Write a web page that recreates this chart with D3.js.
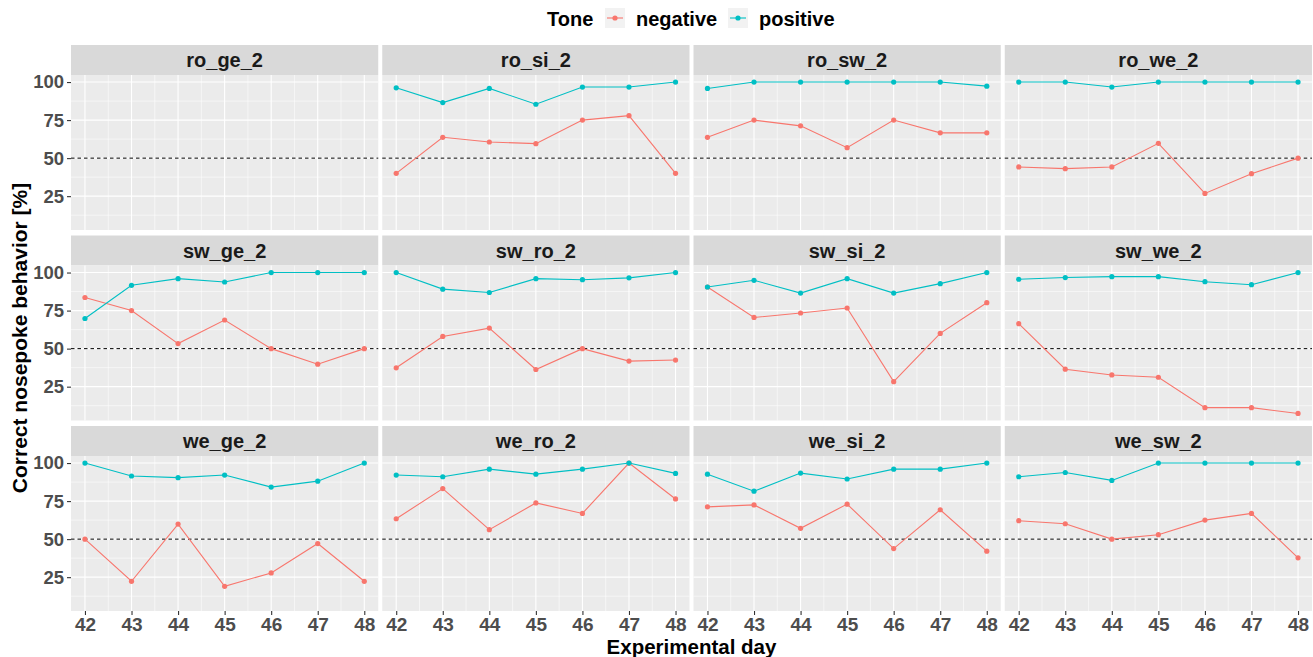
<!DOCTYPE html>
<html>
<head>
<meta charset="utf-8">
<script src="https://cdn.jsdelivr.net/npm/d3@7"></script>
<style>
  body { margin: 0; background: #fff; }
  text { font-family: "Liberation Sans", Arial, sans-serif; font-weight: bold; }
</style>
</head>
<body>
<div id="chart"></div>
<script>
var svgWidth = 1313;
var svgHeight = 657;

// Data
var days = [42, 43, 44, 45, 46, 47, 48];
var facets = ["ro_ge_2", "ro_si_2", "ro_sw_2", "ro_we_2",
              "sw_ge_2", "sw_ro_2", "sw_si_2", "sw_we_2",
              "we_ge_2", "we_ro_2", "we_si_2", "we_sw_2"];
var tones = ["negative", "positive"];
var yTicks = [25, 50, 75, 100];

var negative = [
  null,
  [40, 63.7, 60.6, 59.5, 75, 77.9, 40],
  [63.7, 75, 71.2, 56.9, 75, 66.6, 66.6],
  [44.2, 43.1, 44.2, 59.7, 26.8, 39.8, 50],
  [83.6, 75, 53.3, 68.8, 50, 39.8, 50],
  [37.4, 58, 63.5, 36.3, 50, 41.8, 42.5],
  [90.5, 70.5, 73.4, 76.7, 28.3, 60, 80.2],
  [66.4, 36.5, 32.7, 31.2, 11.2, 11.2, 7.4],
  [50, 22.3, 59.9, 19, 27.8, 47.1, 22.3],
  [63.4, 83.2, 56.2, 73.8, 66.9, 100, 76.4],
  [71.2, 72.5, 57.1, 73, 43.8, 69.3, 42.1],
  [62.1, 60.1, 50, 52.9, 62.5, 66.9, 37.7]
];
var positive = [
  null,
  [96.2, 86.5, 95.8, 85.4, 96.7, 96.7, 100],
  [95.8, 100, 100, 100, 100, 100, 97.3],
  [100, 100, 96.7, 100, 100, 100, 100],
  [69.8, 91.6, 96, 93.8, 100, 100, 100],
  [100, 89.1, 86.9, 96, 95.3, 96.5, 100],
  [90.5, 94.9, 86.5, 96, 86.5, 92.7, 100],
  [95.6, 96.7, 97.3, 97.3, 94, 92, 100],
  [100, 91.5, 90.4, 92.1, 84.2, 88.1, 100],
  [92.1, 91, 96, 92.7, 96, 100, 93.2],
  [92.7, 81.5, 93.4, 89.5, 96, 96, 100],
  [91, 93.8, 88.6, 100, 100, 100, 100]
];
var chance = 50;

var colors = { negative: "#F8766D", positive: "#00BFC4" };

// Layout of the facet grid
var plotLeft = 71, plotRight = 1312, plotTop = 45;
var nCols = 4, nRows = 3, colGap = 4;
var stripH = 30, panelH = 155, rowPitch = 190.5;
var panelW = (plotRight - plotLeft - colGap * (nCols - 1)) / nCols;

var svg = d3.select("#chart")
  .append("svg")
  .attr("width", svgWidth)
  .attr("height", svgHeight);

// Shared scales (ggplot-style 5% expansion)
var allVals = d3.merge(negative.concat(positive).filter(d => d));
var yMin = d3.min(allVals), yMax = d3.max(allVals);
var yPad = (yMax - yMin) * 0.05;
var yScale = d3.scaleLinear()
  .domain([yMin - yPad, yMax + yPad])
  .range([panelH, 0]);

var xPad = (d3.max(days) - d3.min(days)) * 0.05;
var xScale = d3.scaleLinear()
  .domain([d3.min(days) - xPad, d3.max(days) + xPad])
  .range([0, panelW]);

var xMinor = days.slice(0, -1).map(d => d + 0.5);
var yMinor = [12.5, 37.5, 62.5, 87.5];

var line = d3.line()
  .x(d => xScale(d.day))
  .y(d => yScale(d.value));

facets.forEach(function(name, i) {
  var col = i % nCols, row = Math.floor(i / nCols);
  var gx = plotLeft + col * (panelW + colGap);
  var gy = plotTop + row * rowPitch;

  var g = svg.append("g").attr("transform", `translate(${gx}, ${gy})`);

  // Strip
  g.append("rect")
    .attr("width", panelW).attr("height", stripH)
    .attr("fill", "#D9D9D9");
  g.append("text")
    .attr("x", panelW / 2).attr("y", stripH / 2)
    .attr("dy", "0.36em")
    .attr("text-anchor", "middle")
    .attr("font-size", "20px")
    .attr("fill", "#1A1A1A")
    .text(name);

  var p = g.append("g").attr("transform", `translate(0, ${stripH})`);

  p.append("rect")
    .attr("width", panelW).attr("height", panelH)
    .attr("fill", "#EBEBEB");

  // Minor grid
  p.selectAll(".xminor").data(xMinor).enter().append("line")
    .attr("x1", d => xScale(d)).attr("x2", d => xScale(d))
    .attr("y1", 0).attr("y2", panelH)
    .attr("stroke", "#fff").attr("stroke-width", 0.55);
  p.selectAll(".yminor").data(yMinor).enter().append("line")
    .attr("x1", 0).attr("x2", panelW)
    .attr("y1", d => yScale(d)).attr("y2", d => yScale(d))
    .attr("stroke", "#fff").attr("stroke-width", 0.55);

  // Major grid
  p.selectAll(".xmajor").data(days).enter().append("line")
    .attr("x1", d => xScale(d)).attr("x2", d => xScale(d))
    .attr("y1", 0).attr("y2", panelH)
    .attr("stroke", "#fff").attr("stroke-width", 1.1);
  p.selectAll(".ymajor").data(yTicks).enter().append("line")
    .attr("x1", 0).attr("x2", panelW)
    .attr("y1", d => yScale(d)).attr("y2", d => yScale(d))
    .attr("stroke", "#fff").attr("stroke-width", 1.1);

  // Chance level
  p.append("line")
    .attr("x1", 0).attr("x2", panelW)
    .attr("y1", yScale(chance)).attr("y2", yScale(chance))
    .attr("stroke", "#000").attr("stroke-width", 1)
    .attr("stroke-dasharray", "3.5,3");

  // Series
  [["negative", negative[i]], ["positive", positive[i]]].forEach(function(s) {
    if (!s[1]) return;
    var pts = days.map((d, j) => ({ day: d, value: s[1][j] }));
    p.append("path")
      .datum(pts)
      .attr("d", line)
      .attr("fill", "none")
      .attr("stroke", colors[s[0]])
      .attr("stroke-width", 1.1);
    p.selectAll(".pt-" + s[0]).data(pts).enter().append("circle")
      .attr("cx", d => xScale(d.day))
      .attr("cy", d => yScale(d.value))
      .attr("r", 2.6)
      .attr("fill", colors[s[0]]);
  });

  // Y axis on first column
  if (col === 0) {
    var yAxis = p.append("g")
      .call(d3.axisLeft(yScale).tickValues(yTicks).tickFormat(d3.format("d"))
        .tickSize(4).tickPadding(3));
    yAxis.select(".domain").remove();
    yAxis.selectAll("line").attr("stroke", "#333").attr("stroke-width", 1.1);
    yAxis.selectAll("text")
      .attr("font-size", "18.5px").attr("fill", "#4D4D4D")
      .attr("font-family", "Liberation Sans, Arial, sans-serif")
      .attr("font-weight", "bold");
  }

  // X axis on bottom row
  if (row === nRows - 1) {
    var xAxis = p.append("g")
      .attr("transform", `translate(0, ${panelH})`)
      .call(d3.axisBottom(xScale).tickValues(days).tickFormat(d3.format("d"))
        .tickSize(4).tickPadding(3));
    xAxis.select(".domain").remove();
    xAxis.selectAll("line").attr("stroke", "#333").attr("stroke-width", 1.1);
    xAxis.selectAll("text")
      .attr("font-size", "19px").attr("fill", "#4D4D4D")
      .attr("font-family", "Liberation Sans, Arial, sans-serif")
      .attr("font-weight", "bold");
  }
});

// Axis titles
svg.append("text")
  .attr("transform", "rotate(-90)")
  .attr("x", -338)
  .attr("y", 27)
  .attr("text-anchor", "middle")
  .attr("font-size", "21px")
  .attr("fill", "#000")
  .text("Correct nosepoke behavior [%]");

svg.append("text")
  .attr("x", (plotLeft + plotRight) / 2)
  .attr("y", 654)
  .attr("text-anchor", "middle")
  .attr("font-size", "20.5px")
  .attr("fill", "#000")
  .text("Experimental day");

// Legend
var legend = svg.append("g").attr("transform", "translate(547, 0)");
legend.append("text")
  .attr("x", 0).attr("y", 26)
  .attr("font-size", "20px")
  .text("Tone");

var keyX = [58, 181];
tones.forEach(function(t, k) {
  var kg = legend.append("g").attr("transform", `translate(${keyX[k]}, 8)`);
  kg.append("rect").attr("width", 20).attr("height", 20).attr("fill", "#F2F2F2");
  kg.append("line")
    .attr("x1", 2).attr("x2", 18).attr("y1", 10).attr("y2", 10)
    .attr("stroke", colors[t]).attr("stroke-width", 1.1);
  kg.append("circle").attr("cx", 10).attr("cy", 10).attr("r", 2.6).attr("fill", colors[t]);
  kg.append("text")
    .attr("x", 31).attr("y", 18)
    .attr("font-size", "20px")
    .text(t);
});
</script>
</body>
</html>
